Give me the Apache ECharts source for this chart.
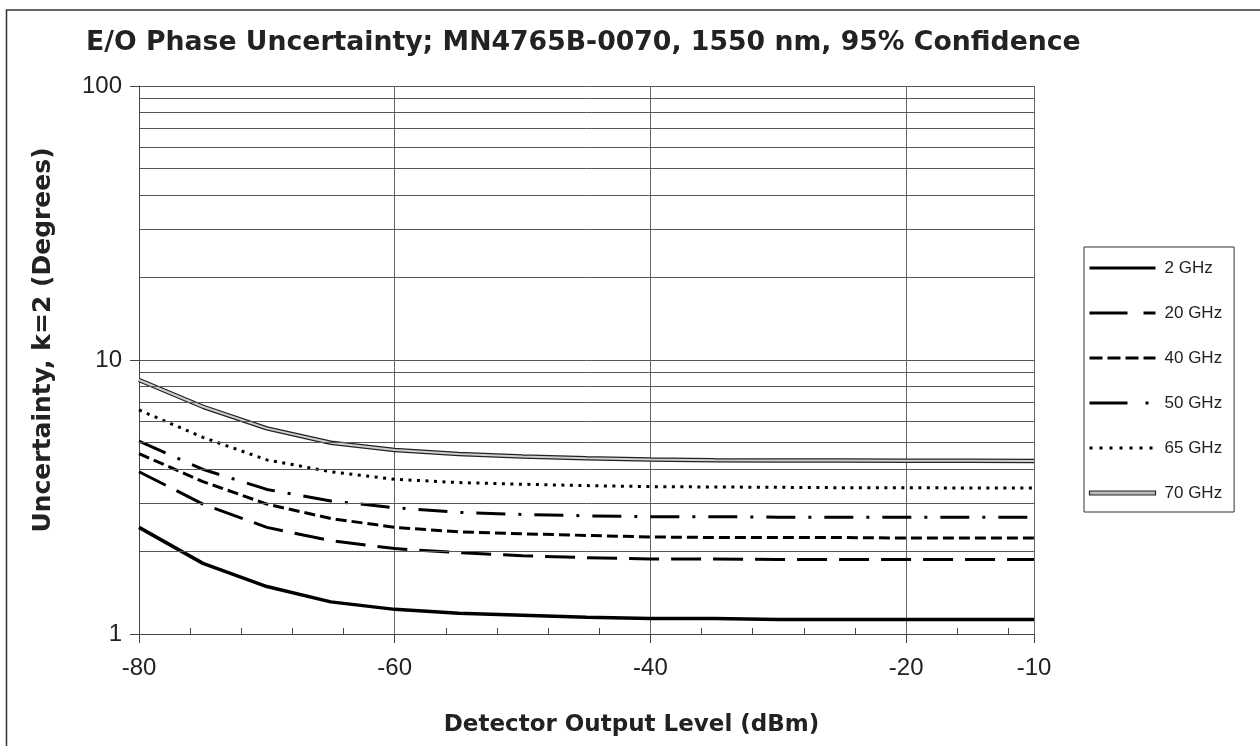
<!DOCTYPE html>
<html>
<head>
<meta charset="utf-8">
<script src="https://cdn.jsdelivr.net/npm/echarts@6/dist/echarts.min.js"></script>
<style>
html,body{margin:0;padding:0;background:#fff;}
#chart{width:1260px;height:746px;}
</style>
</head>
<body>
<div id="chart"></div>
<script>
// ---- data ----
const levels = [-80, -75, -70, -65, -60, -55, -50, -45, -40, -35, -30, -25, -20, -15, -10];
const ghz2  = [2.45, 1.81, 1.49, 1.31, 1.23, 1.19, 1.17, 1.15, 1.14, 1.14, 1.13, 1.13, 1.13, 1.13, 1.13];
const ghz20 = [3.91, 2.98, 2.45, 2.19, 2.05, 1.98, 1.93, 1.90, 1.88, 1.88, 1.87, 1.87, 1.87, 1.87, 1.87];
const ghz40 = [4.55, 3.60, 2.98, 2.64, 2.45, 2.36, 2.32, 2.29, 2.26, 2.25, 2.25, 2.25, 2.24, 2.24, 2.24];
const ghz50 = [5.06, 3.99, 3.37, 3.06, 2.89, 2.78, 2.73, 2.70, 2.68, 2.68, 2.67, 2.67, 2.67, 2.67, 2.67];
const ghz65 = [6.57, 5.22, 4.32, 3.91, 3.67, 3.57, 3.52, 3.48, 3.45, 3.44, 3.43, 3.42, 3.42, 3.41, 3.41];
const ghz70 = [8.45, 6.75, 5.63, 4.99, 4.69, 4.54, 4.44, 4.38, 4.33, 4.31, 4.30, 4.30, 4.29, 4.29, 4.28];
const seriesNames = ['2 GHz', '20 GHz', '40 GHz', '50 GHz', '65 GHz', '70 GHz'];
const xTicks = [-80, -60, -40, -20, -10];
const yMinorGrid = [2, 3, 4, 5, 6, 7, 8, 9, 20, 30, 40, 50, 60, 70, 80, 90];

const pair = (ys) => levels.map((x, i) => [x, ys[i]]);
const FONT = '"Liberation Sans", Arial, sans-serif';
const WIDE = '"DejaVu Sans", "Liberation Sans", Arial, sans-serif';
const INK = '#222';

const chart = echarts.init(document.getElementById('chart'), null, {renderer: 'canvas'});

const lineSeries = (name, ys, style) => ({
  name: name,
  type: 'line',
  data: pair(ys),
  symbol: 'none',
  showSymbol: false,
  smooth: false,
  z: 3,
  itemStyle: {color: '#000'},
  lineStyle: Object.assign({color: '#000', width: 3}, style)
});

const hideDot = {opacity: 0, color: '#000'};

const option = {
  animation: false,
  backgroundColor: '#fff',
  graphic: [{
    type: 'rect',
    shape: {x: 6.5, y: 10, width: 1400, height: 900},
    style: {fill: 'none', stroke: '#333', lineWidth: 1.5},
    silent: true,
    z: 0
  }],
  title: {
    text: 'E/O Phase Uncertainty; MN4765B-0070, 1550 nm, 95% Confidence',
    left: 86,
    top: 30,
    padding: 0,
    textStyle: {fontFamily: WIDE, fontSize: 26.7, fontWeight: 'bold', color: INK}
  },
  legend: {
    orient: 'vertical',
    left: 1084,
    top: 247,
    padding: [12, 12, 10, 4],
    itemWidth: 66,
    itemHeight: 14,
    itemGap: 27,
    borderColor: '#333',
    borderWidth: 1,
    backgroundColor: '#fff',
    selectedMode: false,
    textStyle: {fontFamily: FONT, fontSize: 17, color: INK, lineHeight: 18, padding: [0, 0, 0, 4]},
    data: [
      {name: '2 GHz', itemStyle: hideDot, lineStyle: {width: 3, type: 'solid', color: '#000'}},
      {name: '20 GHz', itemStyle: hideDot, lineStyle: {width: 3, type: [38, 16], color: '#000'}},
      {name: '40 GHz', itemStyle: hideDot, lineStyle: {width: 3, type: [13, 5], color: '#000'}},
      {name: '50 GHz', itemStyle: hideDot, lineStyle: {width: 3, type: [38, 18, 3, 18], color: '#000'}},
      {name: '65 GHz', itemStyle: hideDot, lineStyle: {width: 3, type: [3, 7], color: '#000'}},
      {name: '70 GHz', icon: 'path://M0,0 L0,0 M0,5 L66,5 L66,9 L0,9 Z M66,14 L66,14',
       itemStyle: {opacity: 1, color: '#bbb', borderColor: '#222', borderWidth: 1.2}}
    ]
  },
  grid: {left: 139, right: 226, top: 86, bottom: 112, containLabel: false},
  xAxis: {
    type: 'value',
    min: -80,
    max: -10,
    interval: 20,
    name: 'Detector Output Level (dBm)',
    nameLocation: 'middle',
    nameGap: 80,
    nameTextStyle: {fontFamily: WIDE, fontSize: 23, fontWeight: 'bold', color: INK, padding: [0, 0, 0, 90]},
    axisLine: {show: true, lineStyle: {color: '#444', width: 1}},
    axisTick: {show: true, length: 9, inside: false, lineStyle: {color: '#444'}},
    minorTick: {show: true, splitNumber: 5, length: -6, lineStyle: {color: '#444'}},
    axisLabel: {fontFamily: FONT, fontSize: 24, color: INK, margin: 22,
      formatter: (v) => (xTicks.indexOf(v) >= 0 ? String(v) : '')},
    splitLine: {show: true, lineStyle: {color: '#666', width: 1}},
    minorSplitLine: {show: false}
  },
  yAxis: {
    type: 'log',
    logBase: 10,
    min: 1,
    max: 100,
    name: 'Uncertainty, k=2 (Degrees)',
    nameLocation: 'middle',
    nameGap: 83,
    nameTextStyle: {fontFamily: WIDE, fontSize: 25, fontWeight: 'bold', color: INK, padding: [0, 0, 0, 40]},
    axisLine: {show: true, lineStyle: {color: '#444', width: 1}},
    axisTick: {show: true, length: 9, inside: false, lineStyle: {color: '#444'}},
    axisLabel: {fontFamily: FONT, fontSize: 24, color: INK, margin: 17},
    splitLine: {show: true, lineStyle: {color: '#555', width: 1}},
    minorTick: {show: false},
    minorSplitLine: {show: false}
  },
  series: [
    {
      name: 'gridlines',
      type: 'line',
      data: [],
      silent: true,
      z: 1,
      markLine: {
        silent: true,
        symbol: ['none', 'none'],
        label: {show: false},
        lineStyle: {color: '#555', type: 'solid', width: 1},
        data: yMinorGrid.map(v => ({yAxis: v}))
      }
    },
    lineSeries('2 GHz', ghz2, {width: 3.5}),
    lineSeries('20 GHz', ghz20, {type: [30, 12]}),
    lineSeries('40 GHz', ghz40, {type: [11, 5]}),
    lineSeries('50 GHz', ghz50, {type: [29, 13, 3, 13]}),
    lineSeries('65 GHz', ghz65, {type: [3, 5.5]}),
    lineSeries('70 GHz', ghz70, {width: 4.5, color: '#222'}),
    Object.assign(lineSeries('70 GHz inner', ghz70, {width: 2, color: '#cfcfcf'}), {z: 4})
  ]
};

chart.setOption(option);
</script>
</body>
</html>
